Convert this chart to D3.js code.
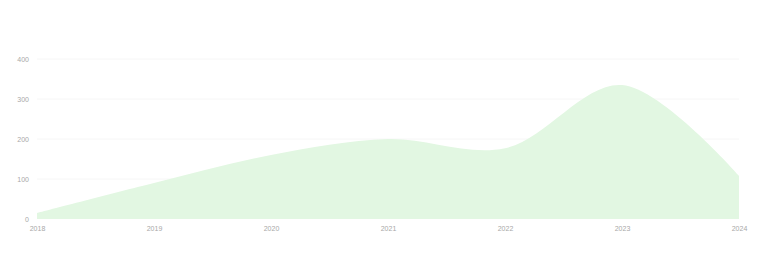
<!DOCTYPE html>
<html><head><meta charset="utf-8">
<script src="https://cdn.jsdelivr.net/npm/d3@7"></script>
<style>body{margin:0;background:#fff;}svg{display:block;}</style>
</head><body>
<svg id="c" width="774" height="272"></svg>
<script>
const years = ["2018","2019","2020","2021","2022","2023","2024"];
const values = [15, 90, 160, 200, 177, 335, 108];
const yTicks = [0, 100, 200, 300, 400];

const svg = d3.select("#c");
const m = {l: 37, r: 35, t: 59, b: 53};
const W = 774, H = 272;
const x = d3.scalePoint().domain(years).range([m.l, W - m.r]);
const y = d3.scaleLinear().domain([0, 400]).range([H - m.b, m.t]);

svg.append("g").selectAll("line").data(yTicks.filter(d => d > 0)).join("line")
  .attr("x1", m.l).attr("x2", W - m.r)
  .attr("y1", d => y(d)).attr("y2", d => y(d))
  .attr("stroke", "#f6f6f6").attr("stroke-width", 1);

const area = d3.area()
  .x((d, i) => x(years[i]))
  .y0(y(0)).y1(d => y(d))
  .curve(d3.curveCatmullRom.alpha(0.5));
svg.append("path").datum(values).attr("d", area).attr("fill", "#e2f7e2");

const yAxis = d3.axisLeft(y).tickValues(yTicks).tickSize(0).tickPadding(8);
const gy = svg.append("g").attr("transform", `translate(${m.l},0)`).call(yAxis);
const xAxis = d3.axisBottom(x).tickSize(0).tickPadding(7);
const gx = svg.append("g").attr("transform", `translate(0,${H - m.b})`).call(xAxis);
[gy, gx].forEach(g => {
  g.select(".domain").remove();
  g.selectAll("text").attr("fill", "#a8a8a8").style("font-family", "Liberation Sans, Arial, sans-serif").style("font-size", "7px");
});
</script>
</body></html>
